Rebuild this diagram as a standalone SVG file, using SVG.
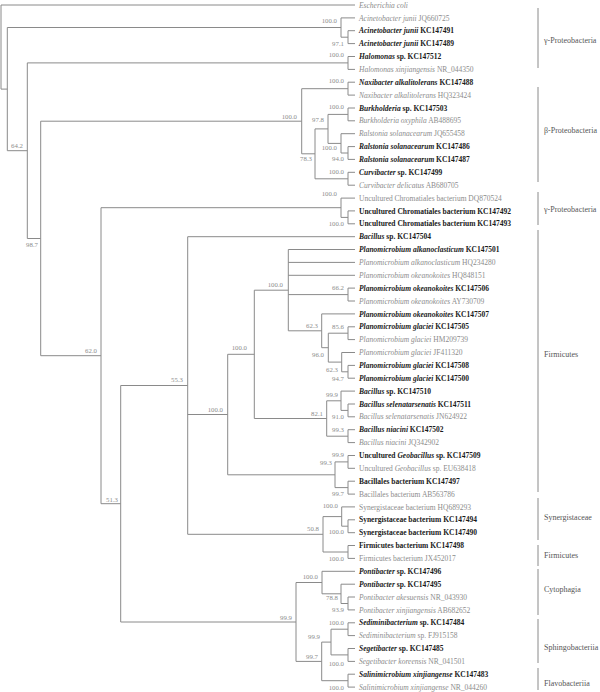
<svg xmlns="http://www.w3.org/2000/svg" width="600" height="692" viewBox="0 0 600 692">
<style>
.ln{fill:none;stroke:#8a8a8a;stroke-width:1}
.br{fill:none;stroke:#8a8a8a;stroke-width:1}
.ref{font-family:"Liberation Serif",serif;font-size:7.5px;fill:#8c8c8c}
.iso{font-family:"Liberation Serif",serif;font-size:7.5px;font-weight:bold;fill:#1a1a1a}
.i{font-style:italic}
.bs{font-family:"Liberation Serif",serif;font-size:6.8px;fill:#8c8c8c;text-anchor:end}
.cl{font-family:"Liberation Serif",serif;font-size:8px;fill:#555}
</style>
<rect width="600" height="692" fill="#fff"/>
<g id="connectors">
<path class="ln" d="M1 5V89.1M1 5H355M1 89.1H7.3"/>
<path class="ln" d="M7.3 27.5V150.7M7.3 27.5H341M7.3 150.7H27.3"/>
<path class="ln" d="M341 17.9V37.2M341 17.9H355M341 37.2H348"/>
<path class="ln" d="M348 30.7V43.6M348 30.7H355M348 43.6H355"/>
<path class="ln" d="M27.3 62.9V238.5M27.3 62.9H348M27.3 238.5H40.7"/>
<path class="ln" d="M348 56.5V69.4M348 56.5H355M348 69.4H355"/>
<path class="ln" d="M40.7 121.2V355.7M40.7 121.2H301.7M40.7 355.7H101"/>
<path class="ln" d="M301.7 88.7V153.8M301.7 88.7H348M301.7 153.8H315"/>
<path class="ln" d="M348 82.2V95.1M348 82.2H355M348 95.1H355"/>
<path class="ln" d="M315 128.9V178.8M315 128.9H328M315 178.8H348"/>
<path class="ln" d="M328 114.4V143.4M328 114.4H348M328 143.4H341"/>
<path class="ln" d="M348 108V120.8M348 108H355M348 120.8H355"/>
<path class="ln" d="M341 133.7V153M341 133.7H355M341 153H348"/>
<path class="ln" d="M348 146.6V159.4M348 146.6H355M348 159.4H355"/>
<path class="ln" d="M348 172.3V185.2M348 172.3H355M348 185.2H355"/>
<path class="ln" d="M101 207.7V503.7M101 207.7H341M101 503.7H120.7"/>
<path class="ln" d="M341 198.1V217.4M341 198.1H355M341 217.4H348"/>
<path class="ln" d="M348 210.9V223.8M348 210.9H355M348 223.8H355"/>
<path class="ln" d="M120.7 385.5V622M120.7 385.5H187.7M120.7 622H296"/>
<path class="ln" d="M187.7 236.7V534.3M187.7 236.7H355M187.7 414.5H227.7M187.7 534.3H323"/>
<path class="ln" d="M227.7 354.3V474.8M227.7 354.3H254.3M227.7 474.8H335"/>
<path class="ln" d="M254.3 290.2V418.5M254.3 290.2H288.3M254.3 418.5H326.7"/>
<path class="ln" d="M288.3 249.5V330.8M288.3 249.5H355M288.3 262.4H355M288.3 275.3H355M288.3 294.6H348M288.3 330.8H321.7"/>
<path class="ln" d="M348 288.1V301M348 288.1H355M348 301H355"/>
<path class="ln" d="M321.7 313.9V347.7M321.7 313.9H355M321.7 347.7H328.3"/>
<path class="ln" d="M328.3 333.2V362.1M328.3 333.2H348M328.3 362.1H341.7"/>
<path class="ln" d="M348 326.8V339.6M348 326.8H355M348 339.6H355"/>
<path class="ln" d="M341.7 352.5V371.8M341.7 352.5H355M341.7 371.8H348"/>
<path class="ln" d="M348 365.4V378.2M348 365.4H355M348 378.2H355"/>
<path class="ln" d="M326.7 400.8V436.2M326.7 400.8H341M326.7 436.2H348"/>
<path class="ln" d="M341 391.1V410.4M341 391.1H355M341 410.4H348"/>
<path class="ln" d="M348 404V416.8M348 404H355M348 416.8H355"/>
<path class="ln" d="M348 429.7V442.6M348 429.7H355M348 442.6H355"/>
<path class="ln" d="M335 461.9V487.6M335 461.9H348M335 487.6H348"/>
<path class="ln" d="M348 455.5V468.3M348 455.5H355M348 468.3H355"/>
<path class="ln" d="M348 481.2V494.1M348 481.2H355M348 494.1H355"/>
<path class="ln" d="M323 516.6V552M323 516.6H341.7M323 552H348"/>
<path class="ln" d="M341.7 506.9V526.2M341.7 506.9H355M341.7 526.2H348"/>
<path class="ln" d="M348 519.8V532.7M348 519.8H355M348 532.7H355"/>
<path class="ln" d="M348 545.5V558.4M348 545.5H355M348 558.4H355"/>
<path class="ln" d="M296 582.5V661.4M296 582.5H322M296 661.4H321.7"/>
<path class="ln" d="M322 571.3V593.8M322 571.3H355M322 593.8H341"/>
<path class="ln" d="M341 584.2V603.5M341 584.2H355M341 603.5H348"/>
<path class="ln" d="M348 597V609.9M348 597H355M348 609.9H355"/>
<path class="ln" d="M321.7 642.1V680.7M321.7 642.1H331M321.7 680.7H348"/>
<path class="ln" d="M331 629.2V654.9M331 629.2H348M331 654.9H348"/>
<path class="ln" d="M348 622.8V635.6M348 622.8H355M348 635.6H355"/>
<path class="ln" d="M348 648.5V661.4M348 648.5H355M348 661.4H355"/>
<path class="ln" d="M348 674.2V687.1M348 674.2H355M348 687.1H355"/>
</g>
<g id="bootstrap">
<text class="bs" x="337" y="23">100.0</text>
<text class="bs" x="344" y="45.5">97.1</text>
<text class="bs" x="344" y="56.6">100.0</text>
<text class="bs" x="23" y="148">64.2</text>
<text class="bs" x="344" y="83">100.0</text>
<text class="bs" x="297" y="119">100.0</text>
<text class="bs" x="344" y="109">100.0</text>
<text class="bs" x="324" y="122.3">97.8</text>
<text class="bs" x="337" y="150.3">100.0</text>
<text class="bs" x="344" y="160.5">94.0</text>
<text class="bs" x="312" y="161.3">78.3</text>
<text class="bs" x="344" y="174">100.0</text>
<text class="bs" x="337" y="196.3">100.0</text>
<text class="bs" x="344" y="226">100.0</text>
<text class="bs" x="38" y="247.3">98.7</text>
<text class="bs" x="97" y="353.3">62.0</text>
<text class="bs" x="283" y="287.3">100.0</text>
<text class="bs" x="247" y="350.3">100.0</text>
<text class="bs" x="344" y="290">66.2</text>
<text class="bs" x="318" y="328">62.3</text>
<text class="bs" x="344" y="329">85.6</text>
<text class="bs" x="324" y="357.3">96.0</text>
<text class="bs" x="338" y="372">62.3</text>
<text class="bs" x="344" y="380.5">94.7</text>
<text class="bs" x="323" y="415.6">82.1</text>
<text class="bs" x="338" y="397">99.9</text>
<text class="bs" x="344" y="418.5">91.0</text>
<text class="bs" x="344" y="432">99.3</text>
<text class="bs" x="223" y="412.3">100.0</text>
<text class="bs" x="183" y="382.3">55.3</text>
<text class="bs" x="344" y="457">99.9</text>
<text class="bs" x="332" y="465">99.3</text>
<text class="bs" x="344" y="496">99.7</text>
<text class="bs" x="338" y="507.5">100.0</text>
<text class="bs" x="319" y="530.6">50.8</text>
<text class="bs" x="344" y="534">100.0</text>
<text class="bs" x="344" y="560.5">100.0</text>
<text class="bs" x="118" y="501.6">51.3</text>
<text class="bs" x="318" y="579.3">100.0</text>
<text class="bs" x="338" y="599.6">78.8</text>
<text class="bs" x="344" y="612">93.9</text>
<text class="bs" x="292" y="620">99.9</text>
<text class="bs" x="320" y="638.5">99.9</text>
<text class="bs" x="344" y="624.6">100.0</text>
<text class="bs" x="344" y="665.6">100.0</text>
<text class="bs" x="318" y="659">99.7</text>
<text class="bs" x="344" y="689.6">100.0</text>
</g>
<g id="leaf1"><text class="ref" x="359" y="7.6"><tspan class="i">Escherichia coli</tspan></text></g>
<g id="leaf2"><text class="ref" x="359" y="20.5"><tspan class="i">Acinetobacter junii</tspan> JQ660725</text></g>
<g id="leaf3"><text class="iso" x="359" y="33.3"><tspan class="i">Acinetobacter junii</tspan> KC147491</text></g>
<g id="leaf4"><text class="iso" x="359" y="46.2"><tspan class="i">Acinetobacter junii</tspan> KC147489</text></g>
<g id="leaf5"><text class="iso" x="359" y="59.1"><tspan class="i">Halomonas</tspan> sp. KC147512</text></g>
<g id="leaf6"><text class="ref" x="359" y="72"><tspan class="i">Halomonas xinjiangensis</tspan> NR_044350</text></g>
<g id="leaf7"><text class="iso" x="359" y="84.8"><tspan class="i">Naxibacter alkalitolerans</tspan> KC147488</text></g>
<g id="leaf8"><text class="ref" x="359" y="97.7"><tspan class="i">Naxibacter alkalitolerans</tspan> HQ323424</text></g>
<g id="leaf9"><text class="iso" x="359" y="110.6"><tspan class="i">Burkholderia</tspan> sp. KC147503</text></g>
<g id="leaf10"><text class="ref" x="359" y="123.4"><tspan class="i">Burkholderia oxyphila</tspan> AB488695</text></g>
<g id="leaf11"><text class="ref" x="359" y="136.3"><tspan class="i">Ralstonia solanacearum</tspan> JQ655458</text></g>
<g id="leaf12"><text class="iso" x="359" y="149.2"><tspan class="i">Ralstonia solanacearum</tspan> KC147486</text></g>
<g id="leaf13"><text class="iso" x="359" y="162"><tspan class="i">Ralstonia solanacearum</tspan> KC147487</text></g>
<g id="leaf14"><text class="iso" x="359" y="174.9"><tspan class="i">Curvibacter</tspan> sp. KC147499</text></g>
<g id="leaf15"><text class="ref" x="359" y="187.8"><tspan class="i">Curvibacter delicatus</tspan> AB680705</text></g>
<g id="leaf16"><text class="ref" x="359" y="200.7">Uncultured Chromatiales bacterium DQ870524</text></g>
<g id="leaf17"><text class="iso" x="359" y="213.5">Uncultured Chromatiales bacterium KC147492</text></g>
<g id="leaf18"><text class="iso" x="359" y="226.4">Uncultured Chromatiales bacterium KC147493</text></g>
<g id="leaf19"><text class="iso" x="359" y="239.3"><tspan class="i">Bacillus</tspan> sp. KC147504</text></g>
<g id="leaf20"><text class="iso" x="359" y="252.1"><tspan class="i">Planomicrobium alkanoclasticum</tspan> KC147501</text></g>
<g id="leaf21"><text class="ref" x="359" y="265"><tspan class="i">Planomicrobium alkanoclasticum</tspan> HQ234280</text></g>
<g id="leaf22"><text class="ref" x="359" y="277.9"><tspan class="i">Planomicrobium okeanokoites</tspan> HQ848151</text></g>
<g id="leaf23"><text class="iso" x="359" y="290.7"><tspan class="i">Planomicrobium okeanokoites</tspan> KC147506</text></g>
<g id="leaf24"><text class="ref" x="359" y="303.6"><tspan class="i">Planomicrobium okeanokoites</tspan> AY730709</text></g>
<g id="leaf25"><text class="iso" x="359" y="316.5"><tspan class="i">Planomicrobium okeanokoites</tspan> KC147507</text></g>
<g id="leaf26"><text class="iso" x="359" y="329.4"><tspan class="i">Planomicrobium glaciei</tspan> KC147505</text></g>
<g id="leaf27"><text class="ref" x="359" y="342.2"><tspan class="i">Planomicrobium glaciei</tspan> HM209739</text></g>
<g id="leaf28"><text class="ref" x="359" y="355.1"><tspan class="i">Planomicrobium glaciei</tspan> JF411320</text></g>
<g id="leaf29"><text class="iso" x="359" y="368"><tspan class="i">Planomicrobium glaciei</tspan> KC147508</text></g>
<g id="leaf30"><text class="iso" x="359" y="380.8"><tspan class="i">Planomicrobium glaciei</tspan> KC147500</text></g>
<g id="leaf31"><text class="iso" x="359" y="393.7"><tspan class="i">Bacillus</tspan> sp. KC147510</text></g>
<g id="leaf32"><text class="iso" x="359" y="406.6"><tspan class="i">Bacillus selenatarsenatis</tspan> KC147511</text></g>
<g id="leaf33"><text class="ref" x="359" y="419.4"><tspan class="i">Bacillus selenatarsenatis</tspan> JN624922</text></g>
<g id="leaf34"><text class="iso" x="359" y="432.3"><tspan class="i">Bacillus niacini</tspan> KC147502</text></g>
<g id="leaf35"><text class="ref" x="359" y="445.2"><tspan class="i">Bacillus niacini</tspan> JQ342902</text></g>
<g id="leaf36"><text class="iso" x="359" y="458.1">Uncultured <tspan class="i">Geobacillus</tspan> sp. KC147509</text></g>
<g id="leaf37"><text class="ref" x="359" y="470.9">Uncultured <tspan class="i">Geobacillus</tspan> sp. EU638418</text></g>
<g id="leaf38"><text class="iso" x="359" y="483.8">Bacillales bacterium KC147497</text></g>
<g id="leaf39"><text class="ref" x="359" y="496.7">Bacillales bacterium AB563786</text></g>
<g id="leaf40"><text class="ref" x="359" y="509.5">Synergistaceae bacterium HQ689293</text></g>
<g id="leaf41"><text class="iso" x="359" y="522.4">Synergistaceae bacterium KC147494</text></g>
<g id="leaf42"><text class="iso" x="359" y="535.3">Synergistaceae bacterium KC147490</text></g>
<g id="leaf43"><text class="iso" x="359" y="548.1">Firmicutes bacterium KC147498</text></g>
<g id="leaf44"><text class="ref" x="359" y="561">Firmicutes bacterium JX452017</text></g>
<g id="leaf45"><text class="iso" x="359" y="573.9"><tspan class="i">Pontibacter</tspan> sp. KC147496</text></g>
<g id="leaf46"><text class="iso" x="359" y="586.8"><tspan class="i">Pontibacter</tspan> sp.  KC147495</text></g>
<g id="leaf47"><text class="ref" x="359" y="599.6"><tspan class="i">Pontibacter akesuensis</tspan> NR_043930</text></g>
<g id="leaf48"><text class="ref" x="359" y="612.5"><tspan class="i">Pontibacter xinjiangensis</tspan> AB682652</text></g>
<g id="leaf49"><text class="iso" x="359" y="625.4"><tspan class="i">Sediminibacterium</tspan> sp. KC147484</text></g>
<g id="leaf50"><text class="ref" x="359" y="638.2"><tspan class="i">Sediminibacterium</tspan> sp. FJ915158</text></g>
<g id="leaf51"><text class="iso" x="359" y="651.1"><tspan class="i">Segetibacter</tspan> sp. KC147485</text></g>
<g id="leaf52"><text class="ref" x="359" y="664"><tspan class="i">Segetibacter koreensis</tspan> NR_041501</text></g>
<g id="leaf53"><text class="iso" x="359" y="676.8"><tspan class="i">Salinimicrobium xinjiangense</tspan> KC147483</text></g>
<g id="leaf54"><text class="ref" x="359" y="689.7"><tspan class="i">Salinimicrobium xinjiangense</tspan> NR_044260</text></g>
<g id="clade-gamma1"><path class="br" d="M538 8V68"/><text class="cl" x="544" y="42.5">γ-Proteobacteria</text></g>
<g id="clade-beta"><path class="br" d="M538 87V182"/><text class="cl" x="544" y="132.5">β-Proteobacteria</text></g>
<g id="clade-gamma2"><path class="br" d="M538 192V225"/><text class="cl" x="544" y="211.5">γ-Proteobacteria</text></g>
<g id="clade-firmicutes1"><path class="br" d="M538 230V492"/><text class="cl" x="544" y="357">Firmicutes</text></g>
<g id="clade-synergistaceae"><path class="br" d="M538 498V540"/><text class="cl" x="544" y="519.5">Synergistaceae</text></g>
<g id="clade-firmicutes2"><path class="br" d="M538 545V566"/><text class="cl" x="544" y="557.5">Firmicutes</text></g>
<g id="clade-cytophagia"><path class="br" d="M538 569V615"/><text class="cl" x="544" y="591.5">Cytophagia</text></g>
<g id="clade-sphingobacteriia"><path class="br" d="M538 619V663"/><text class="cl" x="544" y="649.5">Sphingobacteriia</text></g>
<g id="clade-flavobacteriia"><path class="br" d="M538 668V690"/><text class="cl" x="544" y="685.5">Flavobacteriia</text></g>
</svg>
